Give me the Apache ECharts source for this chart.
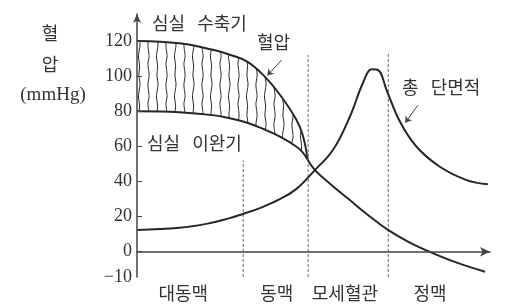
<!DOCTYPE html>
<html><head><meta charset="utf-8">
<script src="https://cdn.jsdelivr.net/npm/echarts@6/dist/echarts.min.js"></script>
<style>html,body{margin:0;padding:0;background:#fff}#c{width:507px;height:306px}</style>
</head><body><div id="c"></div>
<script>
// ---- data ----
const categories = ['대동맥', '동맥', '모세혈관', '정맥'];
const categoryPos = [13.1, 39.6, 58.9, 83.0];
const dividerX = [30.1, 48.5, 71.2];
const dividerTop = [52, 112, 114];
const yTicks = [0, 20, 40, 60, 80, 100, 120];
const yBottomLabel = '−10';
const bandX = [0, 12, 21.5, 26.3, 31.2, 35.8, 40.5, 45.2, 47, 48.4];
const systolic = [120, 118.7, 115, 112.2, 108.3, 100.6, 89.4, 75, 66, 52.2];
const diastolic = [80, 79.5, 77.8, 76, 73.5, 69.9, 65.5, 59.8, 56.5, 52.2];
const pressureX = [48.4, 50.4, 55, 60.3, 65, 71.1, 77, 83.9, 91, 98.6];
const pressure = [52.2, 46.5, 38.2, 29.4, 21.6, 12.4, 5.5, -0.9, -6.5, -11.4];
const areaX = [0, 12, 20, 26, 30, 35, 40, 45, 50.4, 55.5, 60.3, 64, 66.5, 68.3, 70.7, 74.5, 79.2, 85.8, 93.4, 99.4];
const crossArea = [12.4, 13.6, 16, 19, 21.5, 25, 29.5, 35.5, 46.5, 57.9, 76.9, 96.1, 103.9, 103.5, 92.1, 74, 59.8, 48.4, 40.8, 38.4];

const Y_MIN = -14.4, Y_MAX = 135.4;
const zip = (xs, ys) => xs.map((x, i) => [x, ys[i]]);

// hatch pattern (wavy vertical lines)
const pat = document.createElement('canvas');
pat.width = 18; pat.height = 40;
const g = pat.getContext('2d');
g.strokeStyle = '#2a2a2a'; g.lineWidth = 1;
g.beginPath();
g.moveTo(4.5, 0);
g.bezierCurveTo(2.5, 8, 6.5, 14, 4.5, 20);
g.bezierCurveTo(2.5, 26, 6.5, 32, 4.5, 40);
g.moveTo(13.5, 0);
g.bezierCurveTo(15.5, 7, 11, 13, 13, 21);
g.bezierCurveTo(15, 28, 11.5, 33, 13.5, 40);
g.stroke();

const chart = echarts.init(document.getElementById('c'), null, {renderer: 'canvas'});
const KR = 'Noto Sans CJK KR';
const SERIF = 'Liberation Serif';
const lineCol = '#262626';

const series = [
  { // systolic with hatch fill down to axis
    type: 'line', data: zip(bandX, systolic), symbol: 'none', smooth: 0.4,
    lineStyle: {color: lineCol, width: 2},
    areaStyle: {color: {image: pat, repeat: 'repeat'}, opacity: 1, origin: 'start'}, z: 1
  },
  { // diastolic with white fill masking below
    type: 'line', data: zip(bandX, diastolic), symbol: 'none', smooth: 0.4,
    lineStyle: {color: lineCol, width: 2},
    areaStyle: {color: '#fff', opacity: 1, origin: 'start'}, z: 2
  },
  {
    type: 'line', data: zip(pressureX, pressure), symbol: 'none', smooth: 0.4,
    lineStyle: {color: lineCol, width: 2}, z: 4
  },
  {
    type: 'line', data: zip(areaX, crossArea), symbol: 'none', smooth: 0.4,
    lineStyle: {color: lineCol, width: 2}, z: 4,
    markLine: {
      silent: true, symbol: ['none', 'arrow'], symbolSize: 6, label: {show: false},
      lineStyle: {color: '#444', width: 1, type: 'solid'},
      data: [
        [{coord: [41.0, 109.2]}, {coord: [36.9, 100.4]}],
        [{coord: [79.6, 83.5]}, {coord: [76.0, 73.5]}]
      ]
    }
  }
];
dividerX.forEach((x, i) => series.push({
  type: 'line', data: [[x, Y_MIN], [x, dividerTop[i]]], symbol: 'none',
  lineStyle: {color: '#8a8a8a', width: 1.3, type: [3, 2]}, z: 3
}));

const txt = (x, y, text, font, align) => ({
  type: 'text', x: x, y: y, z: 100,
  style: {text: text, font: font, fill: '#333', align: align, verticalAlign: 'middle'}
});
const krFont = '18px "' + KR + '"';

chart.setOption({
  animation: false,
  backgroundColor: '#fff',
  grid: {left: 137, right: 17, top: 14, bottom: 29, containLabel: false},
  xAxis: {
    type: 'value', min: 0, max: 100, z: 10,
    axisLine: {show: true, symbol: ['none', 'arrow'], symbolSize: [7, 10], lineStyle: {color: '#444', width: 1.5}},
    axisTick: {show: false},
    splitLine: {show: false},
    axisLabel: {
      customValues: categoryPos, margin: 7,
      formatter: v => categories[categoryPos.indexOf(v)] || '',
      fontFamily: KR, fontSize: 18, color: '#333'
    }
  },
  yAxis: {
    type: 'value', min: Y_MIN, max: Y_MAX, z: 10,
    axisLine: {show: true, symbol: ['none', 'arrow'], symbolSize: [6, 9], lineStyle: {color: '#444', width: 1.5}},
    axisTick: {show: true, inside: true, length: 5, customValues: yTicks, lineStyle: {color: '#444'}},
    splitLine: {show: false},
    axisLabel: {
      customValues: [Y_MIN].concat(yTicks), margin: 5,
      formatter: v => (v < -1 ? yBottomLabel : String(v)),
      fontFamily: SERIF, fontSize: 18, color: '#333'
    }
  },
  graphic: [
    txt(50, 33, '혈', krFont, 'center'),
    txt(50, 64, '압', krFont, 'center'),
    txt(53, 95, '(mmHg)', '19px "' + SERIF + '"', 'center'),
    txt(152, 23, '심실   수축기', krFont, 'left'),
    txt(257, 42, '혈압', krFont, 'left'),
    txt(147, 143, '심실   이완기', krFont, 'left'),
    txt(402, 87, '총   단면적', krFont, 'left')
  ],
  series: series
});
</script>
</body></html>
